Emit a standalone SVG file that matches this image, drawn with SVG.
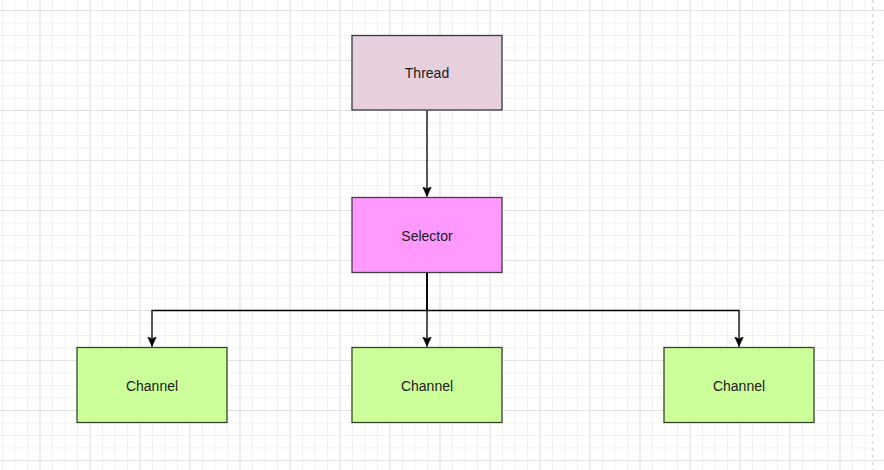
<svg xmlns="http://www.w3.org/2000/svg" width="884" height="470" viewBox="0 0 884 470">
<defs>
<pattern id="minor" x="2" y="10" width="12.5" height="12.5" patternUnits="userSpaceOnUse">
<path d="M0.5 0V12.5M0 0.5H12.5" stroke="#f1f1f1" stroke-width="1" fill="none"/>
</pattern>
<pattern id="major" x="-10.5" y="10" width="50" height="50" patternUnits="userSpaceOnUse">
<path d="M0.5 0V50M0 0.5H50" stroke="#e2e2e2" stroke-width="1" fill="none"/>
</pattern>
<marker id="arrow" viewBox="0 0 10 10" refX="10" refY="5" markerWidth="10" markerHeight="10" markerUnits="userSpaceOnUse" orient="auto">
<path d="M10 5L0 0.5L2.5 5L0 9.5Z" fill="#000" stroke="#000" stroke-width="0.5"/>
</marker>
</defs>
<style>
.node rect{stroke-width:1.3}
.node text{font-family:"Liberation Sans",Arial,sans-serif;font-size:14px;fill:#1a1a1a;text-anchor:middle;dominant-baseline:central}
.edge{fill:none;stroke:#000;stroke-width:1.3}
</style>
<rect width="884" height="470" fill="#fff"/>
<rect width="873" height="470" fill="url(#minor)"/>
<rect width="884" height="470" fill="url(#major)"/>
<line x1="872.5" y1="0" x2="872.5" y2="470" stroke="#d8d8d8" stroke-width="1.5" stroke-dasharray="3 4"/>
<g id="connectors">
<path class="edge" d="M427 110.5V196.5" marker-end="url(#arrow)"/>
<path class="edge" d="M427 273V346.5" marker-end="url(#arrow)"/>
<path class="edge" d="M427 273V310.5H152V346.5" marker-end="url(#arrow)"/>
<path class="edge" d="M427 273V310.5H739V346.5" marker-end="url(#arrow)"/>
</g>
<g id="thread" class="node">
<rect x="352" y="35.5" width="150" height="74.5" fill="#e6d0de" stroke="#36393d"/>
<text x="427" y="73">Thread</text>
</g>
<g id="selector" class="node">
<rect x="352" y="197.5" width="150" height="75" fill="#ff99ff" stroke="#4a3a4a"/>
<text x="427" y="235.5">Selector</text>
</g>
<g id="channel1" class="node">
<rect x="77" y="347.5" width="150" height="75" fill="#ccff99" stroke="#36452a"/>
<text x="152" y="385.5">Channel</text>
</g>
<g id="channel2" class="node">
<rect x="352" y="347.5" width="150" height="75" fill="#ccff99" stroke="#36452a"/>
<text x="427" y="385.5">Channel</text>
</g>
<g id="channel3" class="node">
<rect x="664" y="347.5" width="150" height="75" fill="#ccff99" stroke="#36452a"/>
<text x="739" y="385.5">Channel</text>
</g>
</svg>
